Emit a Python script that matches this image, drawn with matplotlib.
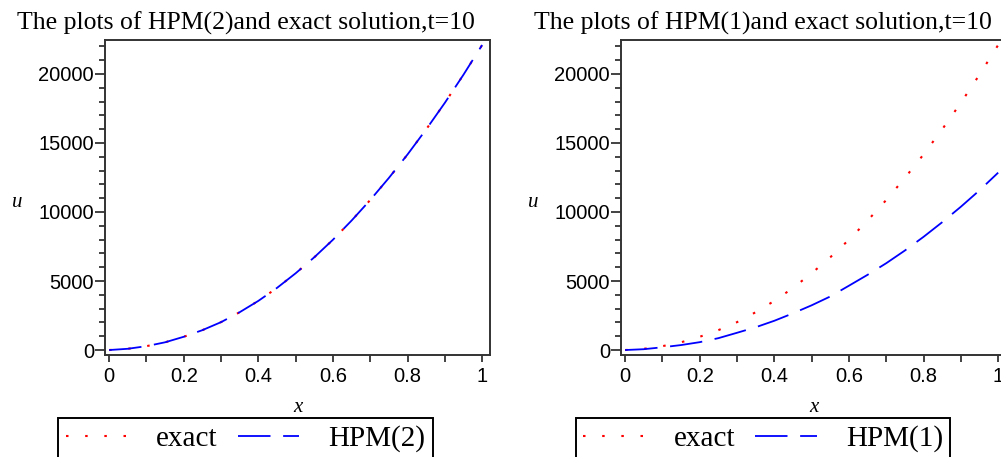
import numpy as np
import matplotlib.pyplot as plt
from matplotlib.ticker import MultipleLocator

# valores (t=10)
x = [0.0, 0.05, 0.10, 0.15, 0.20, 0.25, 0.30, 0.35, 0.40, 0.45, 0.50,
     0.55, 0.60, 0.65, 0.70, 0.75, 0.80, 0.85, 0.90, 0.95, 1.00]
u_exact = [0, 90, 280, 560, 960, 1440, 2020, 2740, 3560, 4500, 5560,
           6720, 7990, 9380, 10870, 12470, 14170, 15990, 17910, 19950, 22100]
u_hpm2 = [0, 90, 280, 560, 960, 1440, 2020, 2740, 3560, 4500, 5560,
          6720, 7990, 9380, 10870, 12470, 14170, 15990, 17910, 19950, 22100]
u_hpm1 = [0, 60, 200, 360, 570, 860, 1250, 1650, 2120, 2660, 3240,
          3880, 4660, 5450, 6290, 7210, 8200, 9260, 10380, 11570, 12850]

titles = ["The plots of HPM(2)and exact solution,t=10",
          "The plots of HPM(1)and exact solution,t=10"]
labels = ["HPM(2)", "HPM(1)"]

W, H = 1001, 457
fig = plt.figure(figsize=(W / 100, H / 100), dpi=100)

SERIF = ["Liberation Serif", "DejaVu Serif"]
SANS = ["Liberation Sans", "DejaVu Sans"]

# (borda esquerda do eixo, serie HPM, centro do titulo/legenda) em pixels
panels = [(105, u_hpm2, 245.5), (621, u_hpm1, 763)]

for k, (left_px, u_hpm, cx) in enumerate(panels):
    ax = fig.add_axes([left_px / W, 1 - 355 / H, 385 / W, 315 / H])

    ax.plot(x, u_exact, color="red", lw=1.5, linestyle=(0, (1.2, 8)),
            label="exact")
    ax.plot(x, u_hpm, color="blue", lw=1.3, linestyle=(0, (18, 7)),
            label=labels[k])

    ax.set_xlim(-0.011, 1.021)
    ax.set_ylim(-360, 22460)

    ax.xaxis.set_major_locator(MultipleLocator(0.2))
    ax.xaxis.set_minor_locator(MultipleLocator(0.1))
    ax.yaxis.set_major_locator(MultipleLocator(5000))
    ax.yaxis.set_minor_locator(MultipleLocator(1000))
    ax.xaxis.set_major_formatter(lambda v, p: "%g" % round(v, 1))

    ax.tick_params(which="both", direction="out", color="#222222",
                   width=1.2, top=False, right=False)
    ax.tick_params(axis="y", which="major", length=7)
    ax.tick_params(axis="y", which="minor", length=4)
    ax.tick_params(axis="x", which="both", length=5)
    for lab in ax.get_xticklabels() + ax.get_yticklabels():
        lab.set_family(SANS)
        lab.set_fontsize(14.5)
    ax.tick_params(axis="x", pad=4)
    ax.tick_params(axis="y", pad=1)

    for sp in ax.spines.values():
        sp.set_linewidth(1.4)
        sp.set_color("#333333")

    # titulo centrado igual a legenda, nao no eixo
    fig.text(cx / W, 1 - 35 / H, titles[k], family=SERIF, fontsize=18.5,
             ha="center", va="bottom")

    ax.set_xlabel("x", family=SERIF, style="italic", fontsize=15)
    ax.xaxis.set_label_coords(0.5, -0.135)
    ax.set_ylabel("u", family=SERIF, style="italic", fontsize=15,
                  rotation=0, va="center")
    ax.yaxis.set_label_coords(-0.229, 0.483)

    leg = ax.legend(loc="lower center", ncol=2,
                    bbox_to_anchor=(cx / W, -0.006),
                    bbox_transform=fig.transFigure, borderaxespad=0,
                    prop={"family": SERIF, "size": 21},
                    handlelength=2.1, handletextpad=1.0, columnspacing=0.7,
                    borderpad=0.25, fancybox=False, framealpha=1)
    leg.get_frame().set_edgecolor("black")
    leg.get_frame().set_linewidth(1.4)

fig.savefig("out.png", dpi=100)
